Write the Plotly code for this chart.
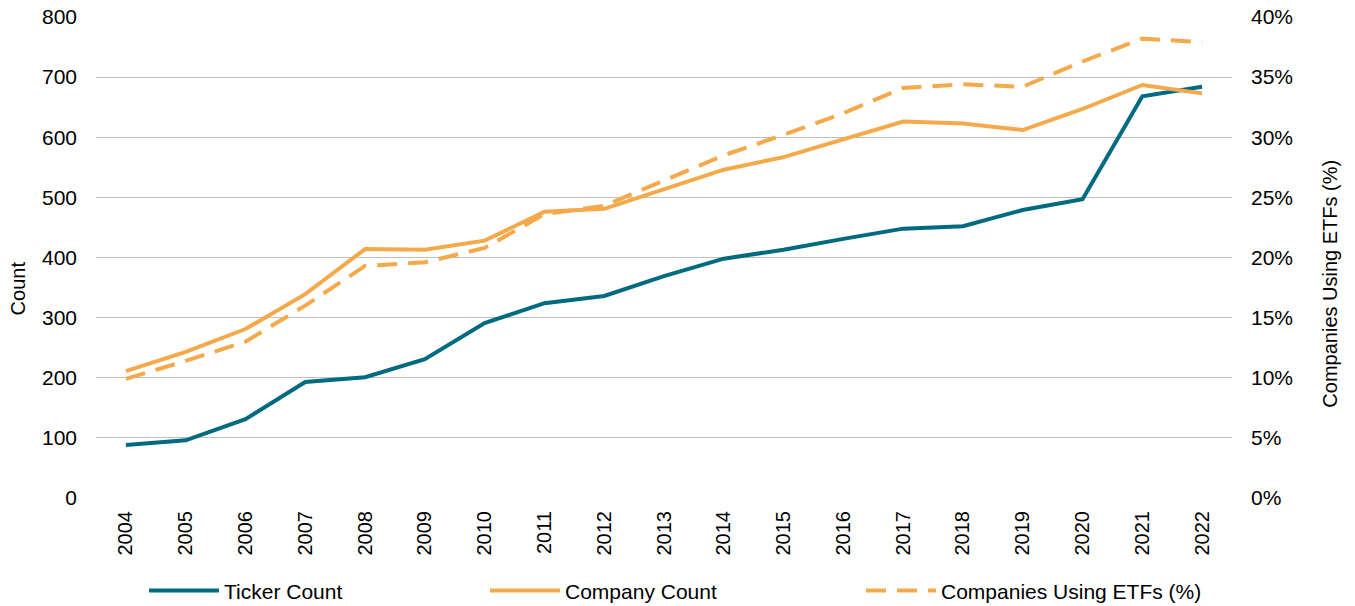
import plotly.graph_objects as go

years = [str(y) for y in range(2004, 2023)]
ticker_count = [88, 96, 131, 193, 201, 231, 291, 324, 336, 369, 398, 413, 431, 448, 452, 479, 497, 668, 684]
company_count = [211, 243, 281, 339, 414, 413, 428, 476, 481, 514, 546, 567, 596, 626, 623, 612, 647, 687, 673]
pct_using_etfs = [9.9, 11.4, 13.0, 16.0, 19.3, 19.6, 20.8, 23.6, 24.3, 26.4, 28.5, 30.2, 32.0, 34.1, 34.4, 34.2, 36.3, 38.2, 37.9]

TEAL = "#006B80"
ORANGE = "#F4A94B"
FONT = "Liberation Sans, Arial, sans-serif"

fig = go.Figure()
fig.add_trace(go.Scatter(x=years, y=ticker_count, name="Ticker Count", mode="lines",
                         line=dict(color=TEAL, width=4), legend="legend"))
fig.add_trace(go.Scatter(x=years, y=company_count, name="Company Count", mode="lines",
                         line=dict(color=ORANGE, width=4), legend="legend2"))
fig.add_trace(go.Scatter(x=years, y=[p / 100 for p in pct_using_etfs], name="Companies Using ETFs (%)",
                         mode="lines", line=dict(color=ORANGE, width=4, dash="20px,11px"),
                         yaxis="y2", legend="legend3"))

leg_common = dict(orientation="h", xref="container", yref="container", y=0.025, yanchor="middle",
                  xanchor="left", itemwidth=70, font=dict(family=FONT, size=21, color="#000000"),
                  bgcolor="rgba(0,0,0,0)")

fig.update_layout(
    width=1355, height=606,
    margin=dict(l=96, r=123, t=17, b=108, autoexpand=False),
    plot_bgcolor="white", paper_bgcolor="white",
    font=dict(family=FONT, size=20, color="#000000"),
    showlegend=True,
    legend=dict(x=144 / 1355, **leg_common),
    legend2=dict(x=485 / 1355, **leg_common),
    legend3=dict(x=861 / 1355, **leg_common),
    xaxis=dict(type="category", range=[-0.5, len(years) - 0.5], tickangle=-90, showgrid=False,
               showline=False, ticks="", tickfont=dict(size=20), ticklabelstandoff=8, automargin=False),
    yaxis=dict(range=[0, 800], dtick=100, showgrid=True, gridcolor="#BFBFBF", gridwidth=1,
               zeroline=False, showline=False, ticks="", tickfont=dict(size=21), ticklabelstandoff=18,
               automargin=False),
    yaxis2=dict(range=[0, 0.40], dtick=0.05, tickformat=".0%", overlaying="y", side="right",
                showgrid=False, zeroline=False, showline=False, ticks="", tickfont=dict(size=21),
                ticklabelstandoff=18, automargin=False),
    annotations=[
        dict(text="Count", xref="paper", yref="paper", x=-0.069, y=0.435, textangle=-90,
             showarrow=False, font=dict(size=20), xanchor="center", yanchor="middle"),
        dict(text="Companies Using ETFs (%)", xref="paper", yref="paper", x=1.086, y=0.445,
             textangle=-90, showarrow=False, font=dict(size=20), xanchor="center", yanchor="middle"),
    ],
)

fig.write_html("out.html", config={"displayModeBar": False},
               post_script="document.body.style.margin='0';document.body.style.overflow='hidden';")
